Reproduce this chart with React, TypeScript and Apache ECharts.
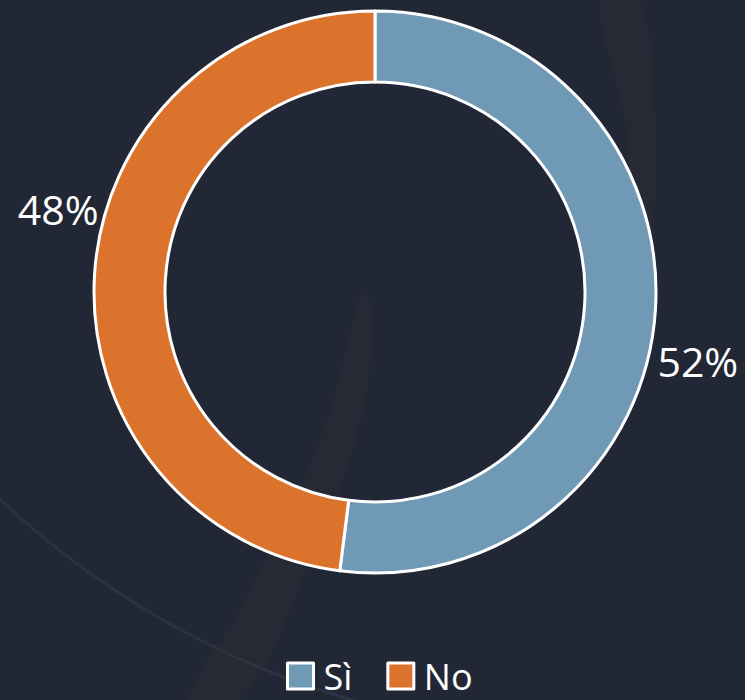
import React, { useEffect, useRef } from "react";
import * as echarts from "echarts";

const categories = ["Sì", "No"];
const values = [52, 48];
const colors = ["#7099b6", "#dc732d"];
const labelShift = [
  { dx: -5, dy: 51 },
  { dx: 11, dy: -65 },
];

export default function App() {
  const ref = useRef<HTMLDivElement>(null);
  useEffect(() => {
    if (!ref.current) return;
    const chart = echarts.init(ref.current, null, { renderer: "svg" });
    const font = "'Open Sans', 'DejaVu Sans', sans-serif";
    chart.setOption({
      animation: false,
      backgroundColor: "#212735",
      textStyle: { fontFamily: font },
      graphic: [
        {
          type: "circle",
          silent: true,
          z: -10,
          shape: { cx: 592, cy: -130, r: 864 },
          style: { fill: "none", stroke: "rgba(255,255,255,0.05)", lineWidth: 3 },
        },
        {
          type: "polygon",
          silent: true,
          z: -10,
          shape: {
            points: [
              [365, 290],
              [320, 440],
              [240, 610],
              [190, 700],
              [240, 700],
              [310, 560],
              [365, 400],
            ],
            smooth: 0.4,
          },
          style: { fill: "rgba(60,55,50,0.22)" },
        },
        {
          type: "polygon",
          silent: true,
          z: -10,
          shape: {
            points: [
              [600, 0],
              [640, 0],
              [655, 120],
              [650, 260],
              [635, 260],
              [625, 120],
            ],
            smooth: 0.3,
          },
          style: { fill: "rgba(60,55,50,0.22)" },
        },
      ],
      legend: {
        data: categories,
        bottom: 6,
        left: 286,
        icon: "rect",
        itemWidth: 26,
        itemHeight: 26,
        itemGap: 34,
        padding: 0,
        itemStyle: { borderColor: "#ffffff", borderWidth: 3 },
        textStyle: {
          color: "#ffffff",
          fontSize: 36,
          lineHeight: 36,
          fontFamily: font,
          padding: [0, 0, 0, 5],
        },
      },
      series: [
        {
          type: "pie",
          center: [375, 292],
          radius: [210, 281],
          startAngle: 90,
          clockwise: true,
          avoidLabelOverlap: false,
          itemStyle: { borderColor: "#ffffff", borderWidth: 3 },
          label: {
            show: true,
            position: "outside",
            formatter: "{d}%",
            color: "#ffffff",
            fontSize: 41,
            fontFamily: font,
          },
          labelLine: { show: false, length: 2, length2: 0 },
          labelLayout: (params: any) => labelShift[params.dataIndex],
          emphasis: { disabled: true },
          data: categories.map((name, i) => ({
            name,
            value: values[i],
            itemStyle: { color: colors[i] },
          })),
        },
      ],
    });
    return () => chart.dispose();
  }, []);
  return (
    <div
      ref={ref}
      style={{ position: "fixed", left: 0, top: 0, width: 745, height: 700 }}
    />
  );
}
